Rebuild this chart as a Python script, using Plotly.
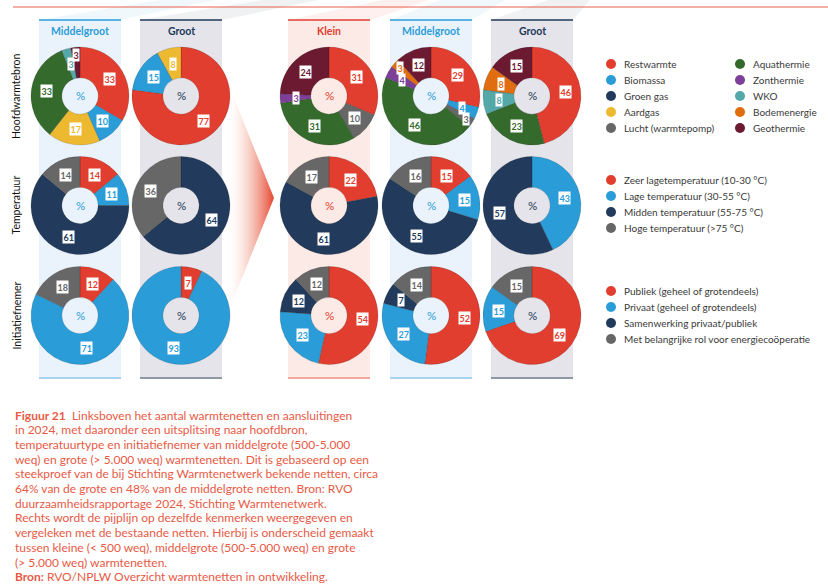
import math
import plotly.graph_objects as go

W, H = 828, 585

# ---------------- data ----------------
bron_labels = ["Restwarmte", "Biomassa", "Groen gas", "Aardgas", "Lucht (warmtepomp)",
               "Aquathermie", "Zonthermie", "WKO", "Bodemenergie", "Geothermie"]
bron_colors = ["#e23e2f", "#2a9dd8", "#223a5c", "#edb931", "#676767",
               "#356a2d", "#7d3f98", "#55a8a8", "#e06d10", "#6b1a31"]
bron_l_mid = [33, 10, 0, 17, 0, 33, 0, 3, 0, 3]
bron_l_groot = [77, 15, 0, 8, 0, 0, 0, 0, 0, 0]
bron_r_klein = [31, 0, 0, 0, 10, 31, 3, 0, 0, 24]
bron_r_mid = [29, 4, 0, 0, 3, 46, 4, 0, 3, 12]
bron_r_groot = [46, 0, 0, 0, 0, 23, 0, 8, 8, 15]

temp_labels = ["Zeer lagetemperatuur (10-30 °C)", "Lage temperatuur (30-55 °C)",
               "Midden temperatuur (55-75 °C)", "Hoge temperatuur (>75 °C)"]
temp_colors = ["#e23e2f", "#2a9dd8", "#223a5c", "#676767"]
temp_l_mid = [14, 11, 61, 14]
temp_l_groot = [0, 0, 64, 36]
temp_r_klein = [22, 0, 61, 17]
temp_r_mid = [15, 15, 55, 16]
temp_r_groot = [0, 43, 57, 0]

init_labels = ["Publiek (geheel of grotendeels)", "Privaat (geheel of grotendeels)",
               "Samenwerking privaat/publiek", "Met belangrijke rol voor energiecoöperatie"]
init_colors = ["#e23e2f", "#2a9dd8", "#223a5c", "#676767"]
init_l_mid = [12, 71, 0, 18]
init_l_groot = [7, 93, 0, 0]
init_r_klein = [54, 23, 12, 12]
init_r_mid = [52, 27, 7, 14]
init_r_groot = [69, 15, 0, 15]

column_titles = ["Middelgroot", "Groot", "Klein", "Middelgroot", "Groot"]
row_titles = ["Hoofdwarmtebron", "Temperatuur", "Initiatiefnemer"]

caption_lines = [
    "<b>Figuur 21</b>  Linksboven het aantal warmtenetten en aansluitingen",
    "in 2024, met daaronder een uitsplitsing naar hoofdbron,",
    "temperatuurtype en initiatiefnemer van middelgrote (500-5.000",
    "weq) en grote (> 5.000 weq) warmtenetten. Dit is gebaseerd op een",
    "steekproef van de bij Stichting Warmtenetwerk bekende netten, circa",
    "64% van de grote en 48% van de middelgrote netten. Bron: RVO",
    "duurzaamheidsrapportage 2024, Stichting Warmtenetwerk.",
    "Rechts wordt de pijplijn op dezelfde kenmerken weergegeven en",
    "vergeleken met de bestaande netten. Hierbij is onderscheid gemaakt",
    "tussen kleine (< 500 weq), middelgrote (500-5.000 weq) en grote",
    "(> 5.000 weq) warmtenetten.",
    "<b>Bron:</b> RVO/NPLW Overzicht warmtenetten in ontwikkeling.",
]

# ---------------- layout helpers ----------------
FONT = "Lato"
col_x = [80, 181, 329, 431, 532]
row_y = [96, 205.5, 315.5]
R = 49
HOLE = 0.37
LBL_R = 33.5
themes = {
    "Middelgroot": dict(bg="#eaf3fb", top="#2a9dd8", bot="#a9d3ef", txt="#2a9dd8"),
    "Groot": dict(bg="#e4e4ea", top="#22385a", bot="#8e98a8", txt="#22385a"),
    "Klein": dict(bg="#fbeae5", top="#e23e2f", bot="#f3a89c", txt="#e23e2f"),
}

def px(x):
    return x / W

def py(y):
    return 1 - y / H

pies = [
    [bron_l_mid, bron_l_groot, bron_r_klein, bron_r_mid, bron_r_groot],
    [temp_l_mid, temp_l_groot, temp_r_klein, temp_r_mid, temp_r_groot],
    [init_l_mid, init_l_groot, init_r_klein, init_r_mid, init_r_groot],
]
row_cats = [(bron_labels, bron_colors), (temp_labels, temp_colors), (init_labels, init_colors)]

fig = go.Figure()
shapes = []
annotations = []

# faint perspective streaks at the top
streaks = [
    (38, 120, 160, 215, "rgba(42,157,216,0.07)"),
    (140, 222, 262, 318, "rgba(34,56,90,0.07)"),
    (289, 371, 382, 428, "rgba(226,62,47,0.08)"),
    (390, 472, 440, 505, "rgba(42,157,216,0.07)"),
    (491, 573, 548, 590, "rgba(34,56,90,0.07)"),
]
for x0, x1, t0, t1, c in streaks:
    shapes.append(dict(type="path", xref="paper", yref="paper", layer="below",
                       path=f"M {px(x0)} {py(20)} L {px(t0)} {py(0)} L {px(t1)} {py(0)} L {px(x1)} {py(20)} Z",
                       fillcolor=c, line=dict(width=0)))

# top red rule
shapes.append(dict(type="line", xref="paper", yref="paper", x0=px(13), x1=1, y0=py(7), y1=py(7),
                   line=dict(color="#e8604c", width=1)))

# panels
for name, cx in zip(column_titles, col_x):
    th = themes[name]
    shapes.append(dict(type="rect", xref="paper", yref="paper", layer="below",
                       x0=px(cx - 41), x1=px(cx + 41), y0=py(378), y1=py(20),
                       fillcolor=th["bg"], line=dict(width=0)))
    shapes.append(dict(type="line", xref="paper", yref="paper",
                       x0=px(cx - 41), x1=px(cx + 41), y0=py(20), y1=py(20),
                       line=dict(color=th["top"], width=1.5)))
    shapes.append(dict(type="line", xref="paper", yref="paper",
                       x0=px(cx - 41), x1=px(cx + 41), y0=py(378), y1=py(378),
                       line=dict(color=th["bot"], width=2)))
    annotations.append(dict(xref="paper", yref="paper", x=px(cx), y=py(31), text=name,
                            showarrow=False, font=dict(family=FONT, size=10.5, color=th["txt"], weight="bold"),
                            xanchor="center", yanchor="middle"))

# arrow with gradient (scatter on hidden pixel axes)
fig.add_trace(go.Scatter(
    x=[226, 274, 226, 226], y=[78, 198, 318, 78], mode="lines", fill="toself",
    line=dict(width=0), hoverinfo="skip", showlegend=False,
    fillgradient=dict(type="horizontal",
                      colorscale=[[0, "rgba(255,255,255,0)"], [0.4, "rgba(247,200,188,0.6)"], [1, "#e6472f"]]),
))

# pies
for ri, (row_vals, (labels, colors)) in enumerate(zip(pies, row_cats)):
    cy = row_y[ri]
    for ci, vals in enumerate(row_vals):
        cx = col_x[ci]
        name = column_titles[ci]
        th = themes[name]
        lab = [l for l, v in zip(labels, vals) if v > 0]
        col = [c for c, v in zip(colors, vals) if v > 0]
        vv = [v for v in vals if v > 0]
        fig.add_trace(go.Pie(
            labels=lab, values=vv, marker=dict(colors=col, line=dict(width=0.4, color="rgba(0,0,0,0.35)")),
            hole=HOLE, sort=False, direction="clockwise", rotation=0,
            textinfo="none", showlegend=False, hoverinfo="label+value",
            domain=dict(x=[px(cx - R), px(cx + R)], y=[py(cy + R), py(cy - R)]),
        ))
        annotations.append(dict(xref="paper", yref="paper", x=px(cx), y=py(cy), text="%",
                                showarrow=False, font=dict(family=FONT, size=11.5, color=th["txt"]),
                                xanchor="center", yanchor="middle"))
        total = sum(vv)
        cum = 0
        prev = None
        for v, c in zip(vv, col):
            a = 2 * math.pi * (cum + v / 2) / total
            r = LBL_R
            if v < 5 and prev is not None and prev < 5:
                r = LBL_R + 8
            lx = cx + r * math.sin(a)
            ly = cy - r * math.cos(a)
            annotations.append(dict(xref="paper", yref="paper", x=px(lx), y=py(ly), text=str(v),
                                    showarrow=False, bgcolor="white", borderpad=0.5,
                                    font=dict(family=FONT, size=9, color=c, weight="bold"),
                                    xanchor="center", yanchor="middle"))
            cum += v
            prev = v

# row titles
for t, cy in zip(row_titles, row_y):
    annotations.append(dict(xref="paper", yref="paper", x=px(16), y=py(cy), text=t, textangle=-90,
                            showarrow=False, font=dict(family=FONT, size=10.5, color="#111111"),
                            xanchor="center", yanchor="middle"))

# legends
def legend_block(labels, colors, x0, y0, step=16):
    for i, (l, c) in enumerate(zip(labels, colors)):
        yy = y0 + i * step
        shapes.append(dict(type="circle", xref="paper", yref="paper",
                           x0=px(x0 - 5), x1=px(x0 + 5), y0=py(yy + 5), y1=py(yy - 5),
                           fillcolor=c, line=dict(width=0)))
        annotations.append(dict(xref="paper", yref="paper", x=px(x0 + 11), y=py(yy), text=l,
                                showarrow=False, font=dict(family=FONT, size=10, color="#3a3a3a"),
                                xanchor="left", yanchor="middle"))

legend_block(bron_labels[:5], bron_colors[:5], 611, 64)
legend_block(bron_labels[5:], bron_colors[5:], 740, 64)
legend_block(temp_labels, temp_colors, 611, 180)
legend_block(init_labels, init_colors, 611, 291)

# caption
for i, line in enumerate(caption_lines):
    annotations.append(dict(xref="paper", yref="paper", x=px(13), y=py(415 + i * 14.7), text=line,
                            showarrow=False, font=dict(family=FONT, size=12, color="#e85a45"),
                            xanchor="left", yanchor="middle", align="left"))

fig.update_layout(
    width=W, height=H, margin=dict(l=0, r=0, t=0, b=0),
    paper_bgcolor="white", plot_bgcolor="rgba(0,0,0,0)",
    xaxis=dict(range=[0, W], visible=False, fixedrange=True, domain=[0, 1]),
    yaxis=dict(range=[H, 0], visible=False, fixedrange=True, domain=[0, 1]),
    shapes=shapes, annotations=annotations, showlegend=False,
)
fig.write_html("out.html", config={"displayModeBar": False},
               post_script="document.body.style.margin='0';document.body.style.overflow='hidden';")
